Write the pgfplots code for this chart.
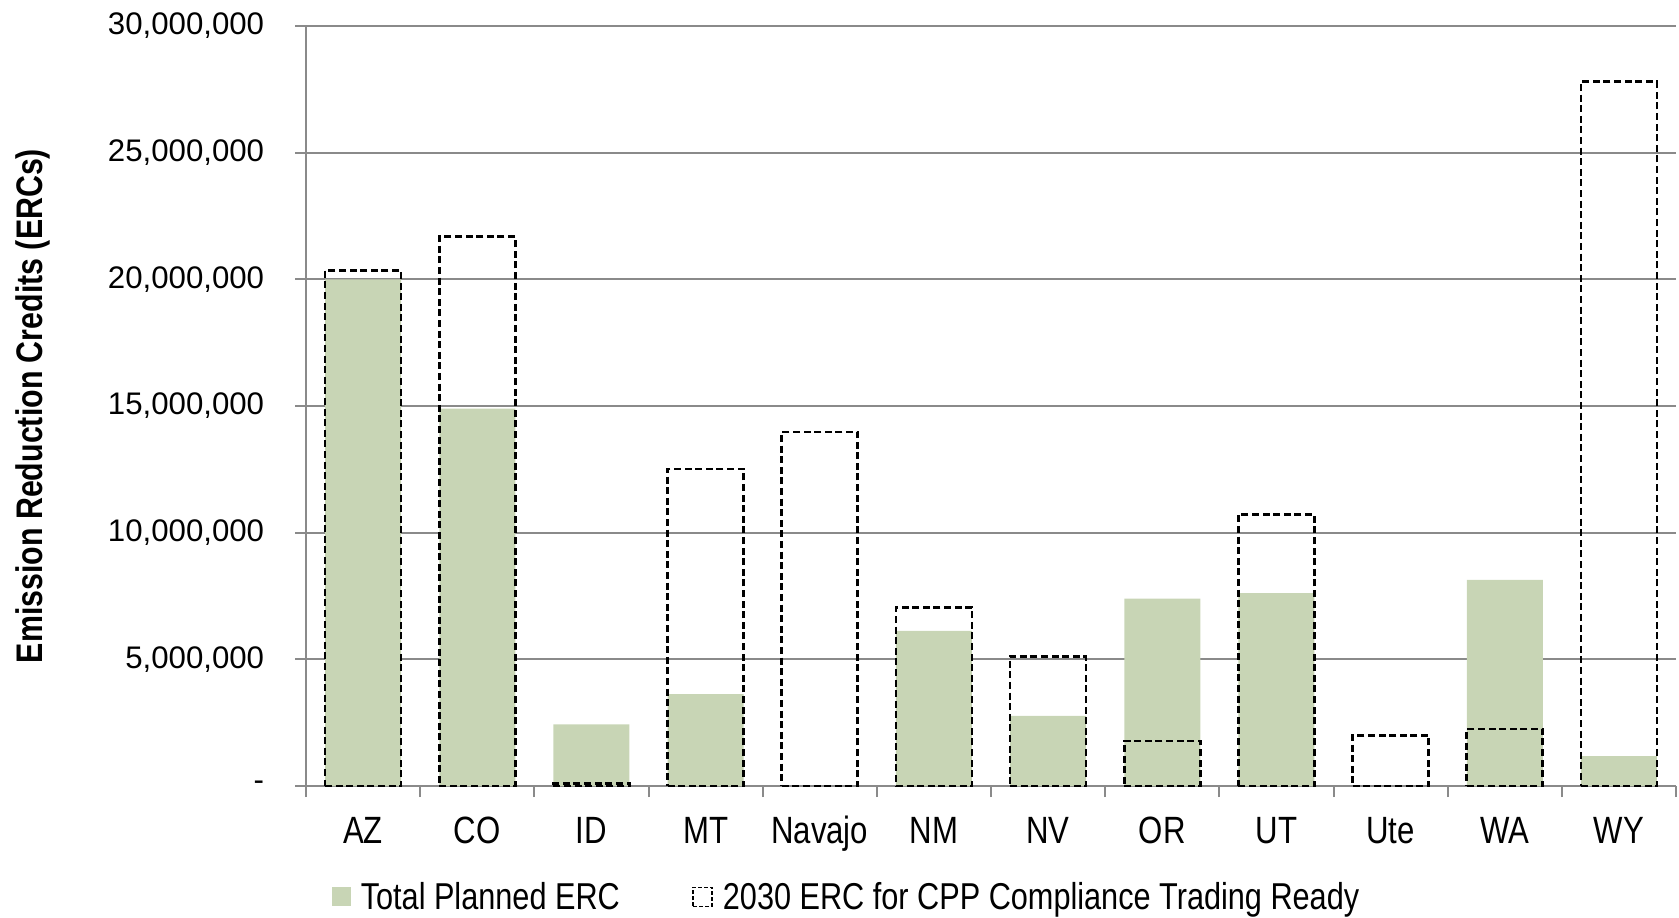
\documentclass[border=0pt]{standalone}
\usepackage{pgfplots}
\pgfplotsset{compat=1.18}
\usepackage{fontspec}
\setmainfont{Liberation Sans}
\newfontfamily\narrowfont[FakeStretch=0.82,BoldFont={Liberation Sans Bold}]{Liberation Sans}
\definecolor{bargreen}{RGB}{200,213,181}
\definecolor{gridgray}{RGB}{138,138,138}
\begin{document}
\begin{tikzpicture}
\begin{axis}[
  scale only axis,
  width=685pt, height=380pt,
  xmin=-0.5, xmax=11.5,
  ymin=0, ymax=30000000,
  axis lines*=left,
  axis line style={draw=gridgray, line width=1pt},
  ytick={0,5000000,10000000,15000000,20000000,25000000,30000000},
  yticklabels={{-\hspace{8pt}},{5,000,000},{10,000,000},{15,000,000},{20,000,000},{25,000,000},{30,000,000}},
  scaled y ticks=false,
  xtick={0,...,11},
  xticklabels={AZ,CO,ID,MT,Navajo,NM,NV,OR,UT,Ute,WA,WY},
  minor xtick={-0.5,0.5,...,11.5},
  major x tick style={draw=none},
  tick align=outside,
  major tick length=5.5pt,
  minor tick length=5.5pt,
  tick style={draw=gridgray, line width=1pt},
  ymajorgrids,
  major grid style={draw=gridgray, line width=1pt},
  yticklabel style={font=\fontsize{15.6}{18}\selectfont, anchor=east, inner sep=0pt, xshift=-15.25pt},
  xticklabel style={font=\narrowfont\fontsize{19}{22}\selectfont, anchor=base, inner sep=0pt, yshift=-23.1pt},
  ylabel={Emission Reduction Credits (ERCs)},
  ylabel style={font=\narrowfont\bfseries\fontsize{18.5}{22}\selectfont, at={(axis description cs:-0.1993,0.5)}, anchor=center},
  legend columns=2,
  legend style={draw=none, fill=none, at={(axis description cs:0.3955,-0.146)}, anchor=center,
    font=\narrowfont\fontsize{18.7}{22}\selectfont,
    /tikz/every even column/.append style={column sep=34pt}},
  legend cell align=left,
]
\addplot[ybar, bar width=38pt, bar shift=0pt, fill=bargreen, draw=none,
  legend image code/.code={\fill[bargreen] (0pt,-4.75pt) rectangle (9.5pt,4.75pt); \path (0pt,0pt) (12.2pt,0pt);}]
  coordinates {(0,20000000) (1,14900000) (2,2430000) (3,3630000) (5,6120000) (6,2770000) (7,7400000) (8,7610000) (10,8140000) (11,1180000)};
\addlegendentry{Total Planned ERC}
\addplot[ybar, bar width=38pt, bar shift=0pt, fill=none, draw=black, line width=1.3pt, dash pattern=on 3.5pt off 1.8pt,
  legend image code/.code={\draw[black, line width=0.8pt, dash pattern=on 2pt off 1pt] (0pt,-4.75pt) rectangle (9.5pt,4.75pt); \path (0pt,0pt) (12.2pt,0pt);}]
  coordinates {(0,20350000) (1,21680000) (2,90000) (3,12520000) (4,13970000) (5,7050000) (6,5120000) (7,1780000) (8,10710000) (9,2000000) (10,2250000) (11,27800000)};
\addlegendentry{2030 ERC for CPP Compliance Trading Ready}
\end{axis}
\pgfresetboundingbox
\path (current axis.south west) ++(-153pt,-65.5pt) rectangle ([shift={(1.5pt,13pt)}]current axis.north east);
\end{tikzpicture}
\end{document}
